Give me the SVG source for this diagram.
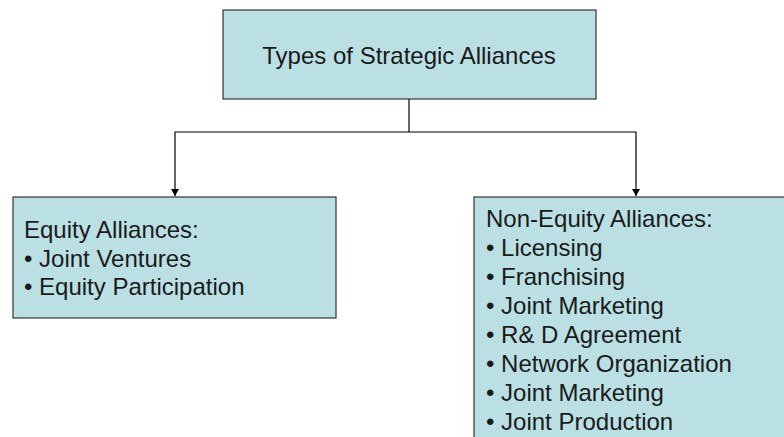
<svg xmlns="http://www.w3.org/2000/svg" width="784" height="437" viewBox="0 0 784 437">
  <style>
    .box { fill: #BBE0E3; stroke: #333333; stroke-width: 1.2; }
    .t { font-family: "Liberation Sans", Arial, sans-serif; font-size: 24px; fill: #1a1a1a; }
    .conn { fill: none; stroke: #000000; stroke-width: 1.2; }
  </style>
  <defs>
    <marker id="arrow" markerWidth="8" markerHeight="8" refX="7" refY="4" orient="auto" markerUnits="userSpaceOnUse">
      <path d="M0,0 L7,4 L0,8 z" fill="#000000"/>
    </marker>
  </defs>
  <rect width="784" height="437" fill="#ffffff"/>
  <g id="connectors">
    <path class="conn" d="M409,99 V132"/>
    <path class="conn" d="M409,132 H175 V196" marker-end="url(#arrow)"/>
    <path class="conn" d="M409,132 H636 V196" marker-end="url(#arrow)"/>
  </g>
  <g id="root">
    <rect class="box" x="223" y="10" width="373" height="89"/>
    <text class="t" x="409" y="64" text-anchor="middle">Types of Strategic Alliances</text>
  </g>
  <g id="equity">
    <rect class="box" x="13" y="197" width="323" height="121"/>
    <text class="t" x="24" y="238">Equity Alliances:</text>
    <text class="t" x="24" y="266.5">• Joint Ventures</text>
    <text class="t" x="24" y="295">• Equity Participation</text>
  </g>
  <g id="nonequity">
    <rect class="box" x="474" y="197" width="320" height="250"/>
    <text class="t" x="486" y="226.5">Non-Equity Alliances:</text>
    <text class="t" x="486" y="255.5">• Licensing</text>
    <text class="t" x="486" y="284.5">• Franchising</text>
    <text class="t" x="486" y="313.5">• Joint Marketing</text>
    <text class="t" x="486" y="342.5">• R&amp; D Agreement</text>
    <text class="t" x="486" y="371.5">• Network Organization</text>
    <text class="t" x="486" y="400.5">• Joint Marketing</text>
    <text class="t" x="486" y="429.5">• Joint Production</text>
  </g>
</svg>
